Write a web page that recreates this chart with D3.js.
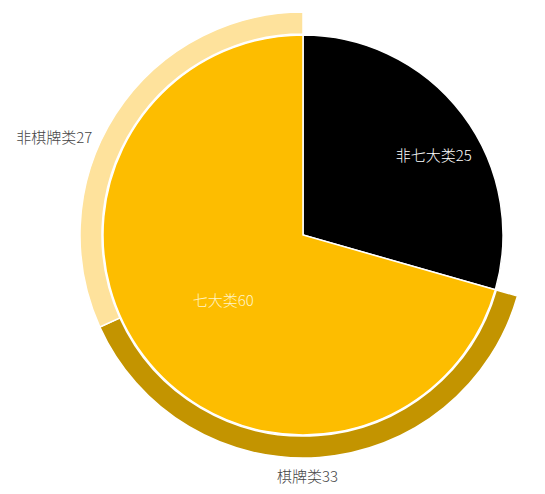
<!DOCTYPE html>
<html>
<head>
<meta charset="utf-8">
<script src="https://cdn.jsdelivr.net/npm/d3@7"></script>
<style>
  body { margin: 0; background: #fff; }
  text { font-family: "Noto Sans CJK SC", "Noto Sans", sans-serif; font-size: 15px; font-weight: 300; }
</style>
</head>
<body>
<div id="chart"></div>
<script>
// inner pie
var innerNames = ["非七大类", "七大类"];
var innerValues = [25, 60];
var innerColors = ["#000000", "#FDBD00"];

// outer ring (only over the 七大类 part)
var outerNames = ["棋牌类", "非棋牌类"];
var outerValues = [33, 27];
var outerColors = ["#C39400", "#FEE29C"];

var width = 545, height = 494;
var cx = 303, cy = 235;

var svg = d3.select("#chart")
    .append("svg")
    .attr("width", width)
    .attr("height", height);

var g = svg.append("g")
    .attr("transform", "translate(" + cx + "," + cy + ")");

var total = d3.sum(innerValues);
var angle = d3.scaleLinear().domain([0, total]).range([0, 2 * Math.PI]);

function polar(a, r) {
    return [r * Math.sin(a), -r * Math.cos(a)];
}

// inner slices
var innerData = [];
var acc = 0;
innerValues.forEach(function (v, i) {
    innerData.push({name: innerNames[i], value: v, color: innerColors[i],
        startAngle: angle(acc), endAngle: angle(acc + v)});
    acc += v;
});

// outer slices start where 非七大类 ends
var outerData = [];
acc = innerValues[0];
outerValues.forEach(function (v, i) {
    outerData.push({name: outerNames[i], value: v, color: outerColors[i],
        startAngle: angle(acc), endAngle: angle(acc + v)});
    acc += v;
});

var innerArc = d3.arc().innerRadius(0).outerRadius(200);
var outerArc = d3.arc().innerRadius(201).outerRadius(223);

g.selectAll(".outer")
    .data(outerData)
    .enter()
    .append("path")
    .attr("class", "outer")
    .attr("d", outerArc)
    .attr("fill", function (d) { return d.color; })
    .attr("stroke", "#fff")
    .attr("stroke-width", 1.5);

g.selectAll(".inner")
    .data(innerData)
    .enter()
    .append("path")
    .attr("class", "inner")
    .attr("d", innerArc)
    .attr("fill", function (d) { return d.color; })
    .attr("stroke", "#fff")
    .attr("stroke-width", 1.5);

// inner labels
var innerLabelR = [153, 103];
var innerLabelShift = [0.1, -0.04];
g.selectAll(".inLabel")
    .data(innerData)
    .enter()
    .append("text")
    .attr("class", "inLabel")
    .attr("transform", function (d, i) {
        var mid = (d.startAngle + d.endAngle) / 2 + innerLabelShift[i];
        return "translate(" + polar(mid, innerLabelR[i]) + ")";
    })
    .attr("text-anchor", "middle")
    .attr("dy", "0.35em")
    .attr("fill", function (d, i) { return i === 0 ? "#ffffff" : "#FFF4C8"; })
    .text(function (d) { return d.name + d.value; });

// outer labels
g.selectAll(".outLabel")
    .data(outerData)
    .enter()
    .append("text")
    .attr("class", "outLabel")
    .attr("transform", function (d, i) {
        var mid = (d.startAngle + d.endAngle) / 2;
        var r = 242;
        if (i === 0) { mid += 0.055; }
        if (i === 1) { mid -= 0.14; r = 232; }
        return "translate(" + polar(mid, r) + ")";
    })
    .attr("text-anchor", function (d, i) { return i === 1 ? "end" : "middle"; })
    .attr("dy", "0.35em")
    .attr("fill", "#444")
    .text(function (d) { return d.name + d.value; });
</script>
</body>
</html>
